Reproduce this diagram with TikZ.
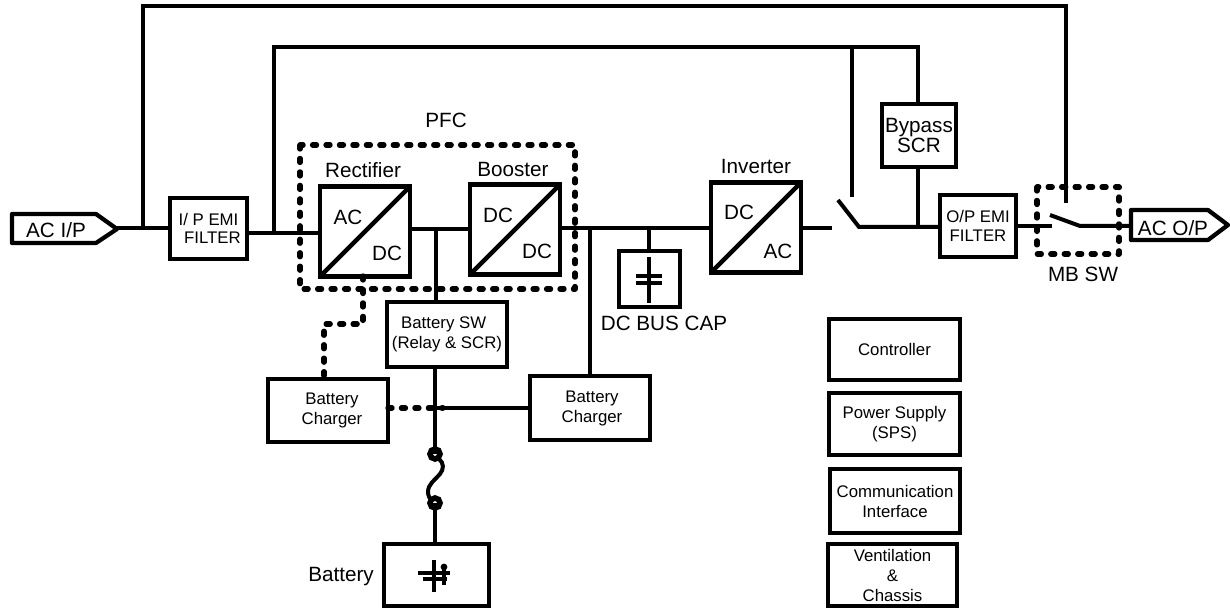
\documentclass[tikz,border=0pt]{standalone}
\usepackage{fontspec}
\setmainfont{Liberation Sans}
\tikzset{
  x=0.75pt,y=-0.75pt,
  wire/.style={line width=3pt,line join=miter},
  boxs/.style={draw,line width=3.2pt,inner sep=0pt,outer sep=0pt,align=center,font=\fontsize{12.6}{15}\selectfont},
  conv/.style={boxs,minimum width=67.5pt,minimum height=67.5pt},
  dash1/.style={line width=4pt,line cap=round,dash pattern=on 3pt off 7.1pt,line join=round},
  lbl/.style={inner sep=0pt,font=\fontsize{15.5}{18}\selectfont}
}
\newcommand{\bx}[6][]{\node[boxs,#1,minimum width=#4*0.75pt,minimum height=#5*0.75pt] (#2) at (#3) {#6};}
\begin{document}
\begin{tikzpicture}
\useasboundingbox (0,0) rectangle (1230,609);
% ports
\node[boxs,draw=none,minimum width=105*0.75pt,minimum height=29*0.75pt] (acin) at (64.5,228.5) {};
\node[boxs,draw=none,minimum width=97*0.75pt,minimum height=30*0.75pt] (acout) at (1179.5,225) {};
\draw[line width=3.2pt,line join=round] (12,214) -- (96,214) -- (117,229) -- (96,243) -- (12,243) -- cycle;
\draw[line width=3.2pt,line join=round] (1131,210) -- (1208,210) -- (1228,225) -- (1208,240) -- (1131,240) -- cycle;
\node[lbl] at (56,230) {AC I/P};
\node[lbl] at (1173,228) {AC O/P};
% boxes
\bx{ipemi}{208.5,228.5}{77}{61}{I/ P EMI\\[-1pt]\hspace*{6pt}FILTER}
\bx{bypass}{919,135.5}{74}{63}{\fontsize{15.5}{18.5}\selectfont Bypass\\\fontsize{15.5}{18.5}\selectfont SCR}
\bx{opemi}{978,226}{76}{62}{O/P EMI\\[-1pt]FILTER}
\bx{capbox}{649.5,279}{61}{56}{}
\bx{batsw}{447,334.5}{120}{65}{\hspace*{-5pt}Battery SW\\(Relay \& SCR)}
\bx{chgl}{328,410.5}{120}{63}{\hspace*{6pt}Battery\\\hspace*{6pt}Charger}
\bx{chgr}{590,408}{120}{64}{\hspace*{3pt}Battery\\\hspace*{3pt}Charger}
\bx{batbox}{436.5,575}{105}{62}{}
\bx{ctrl}{894.5,349.5}{131}{61}{Controller}
\bx{sps}{894.5,424}{131}{62}{Power Supply\\(SPS)}
\bx{comm}{895,501}{130}{64}{Communication\\Interface}
\bx{vent}{892.5,575}{129}{62}{Ventilation\\\&\\Chassis}
% converters
\node[conv] (rect) at (365,231.5) {};
\node[conv] (boost) at (515,229.5) {};
\node[conv] (inv) at (756,227.5) {};
\foreach \n in {rect,boost,inv} \draw[line width=3.2pt] (\n.south west) -- (\n.north east);
\node[lbl] at (348,217) {AC};
\node[lbl] at (387,253) {DC};
\node[lbl] at (498,215) {DC};
\node[lbl] at (537,251) {DC};
\node[lbl] at (739,212) {DC};
\node[lbl] at (778,251) {AC};
\node[lbl] at (363,170) {Rectifier};
\node[lbl] at (513,169) {Booster};
\node[lbl] at (756,166) {Inverter};
\node[lbl] at (446,120) {PFC};
\node[lbl] at (664,323) {DC BUS CAP};
\node[lbl] at (1083,274) {MB SW};
\node[lbl] at (341,577) {Battery};
% coordinates
\coordinate (j1) at (143,229);
\coordinate (t1) at (143,6);
\coordinate (t2) at (1066,6);
\coordinate (t3) at (1066,203);
\coordinate (j2) at (274,233);
\coordinate (t4) at (274,47);
\coordinate (t5) at (918,47);
\coordinate (j3) at (852,47);
\coordinate (t6) at (852,197);
\coordinate (j4) at (918,227);
\coordinate (s1) at (838,200);
\coordinate (s2) at (859,227);
\coordinate (m0) at (1052,226);
\coordinate (m1) at (1050,215);
\coordinate (m2) at (1080,226);
\coordinate (j5) at (436,229);
\coordinate (j6) at (590,228);
\coordinate (j7) at (649,228);
\coordinate (o1) at (832,228);
\coordinate (f1) at (435,454);
\coordinate (f2) at (435,503);
\coordinate (j8) at (435,408);
\coordinate (j9) at (443,408);
\coordinate (d1) at (363,276);
\coordinate (d2) at (363,324);
\coordinate (d3) at (324,324);
\coordinate (d4) at (324,379);
% wires
\draw[wire] (acin.east) -- (ipemi.west);
\draw[wire] (j1) -- (t1) -- (t2) -- (t3);
\draw[wire] (ipemi.east |- j2) -- (rect.west |- j2);
\draw[wire] (j2) -- (t4) -- (t5) -- (bypass.north -| t5);
\draw[wire] (j3) -- (t6);
\draw[wire] (bypass.south -| j4) -- (j4);
\draw[wire] (s1) -- (s2) -- (opemi.west |- s2);
\draw[wire] (opemi.east) -- (m0);
\draw[wire] (m1) -- (m2) -- (acout.west |- m2);
\draw[wire] (rect.east |- j5) -- (boost.west |- j5);
\draw[wire,line width=2.6pt] (j5) -- (batsw.north -| j5);
\draw[wire] (boost.east |- j6) -- (inv.west |- j6);
\draw[wire] (inv.east |- o1) -- (o1);
\draw[wire,line width=2.6pt] (j6) -- (chgr.north -| j6);
\draw[wire,line width=2.6pt] (j7) -- (capbox.north -| j7);
\draw[wire] (batsw.south -| f1) -- (f1);
\draw[wire,line width=2.6pt] (j8) -- (chgr.west |- j8);
\draw[wire] (f2) -- (batbox.north -| f2);
% fuse
\draw[line width=4.2pt] (f1) circle (5);
\draw[line width=4.2pt] (f2) circle (5);
\draw[line width=3pt] (439,459) .. controls (444,463) and (444,469) .. (440,474) .. controls (435,480) and (428,484) .. (428,492) .. controls (428,496) and (430,499) .. (432,501);
% capacitor
\draw[line width=2.6pt] (649,257) -- (649,303);
\draw[line width=3pt] (636,276) -- (662,276);
\draw[line width=3pt] (636,283) -- (662,283);
% battery symbol
\draw[line width=3pt] (434,560) -- (434,592);
\draw[line width=3pt] (418,573) -- (450,573);
\draw[line width=3pt] (423,579) -- (447,579);
\draw[line width=2.6pt] (444,568) -- (444,585);
\fill (444,567) circle (3.4);
% dashed
\draw[dash1] (300,145) rectangle (575,289);
\draw[dash1] (1037,187) rectangle (1119,254);
\draw[dash1] (d1) -- (d2) -- (d3) -- (d4);
\draw[dash1] (chgl.east |- j8) -- (j9);
\end{tikzpicture}
\end{document}
